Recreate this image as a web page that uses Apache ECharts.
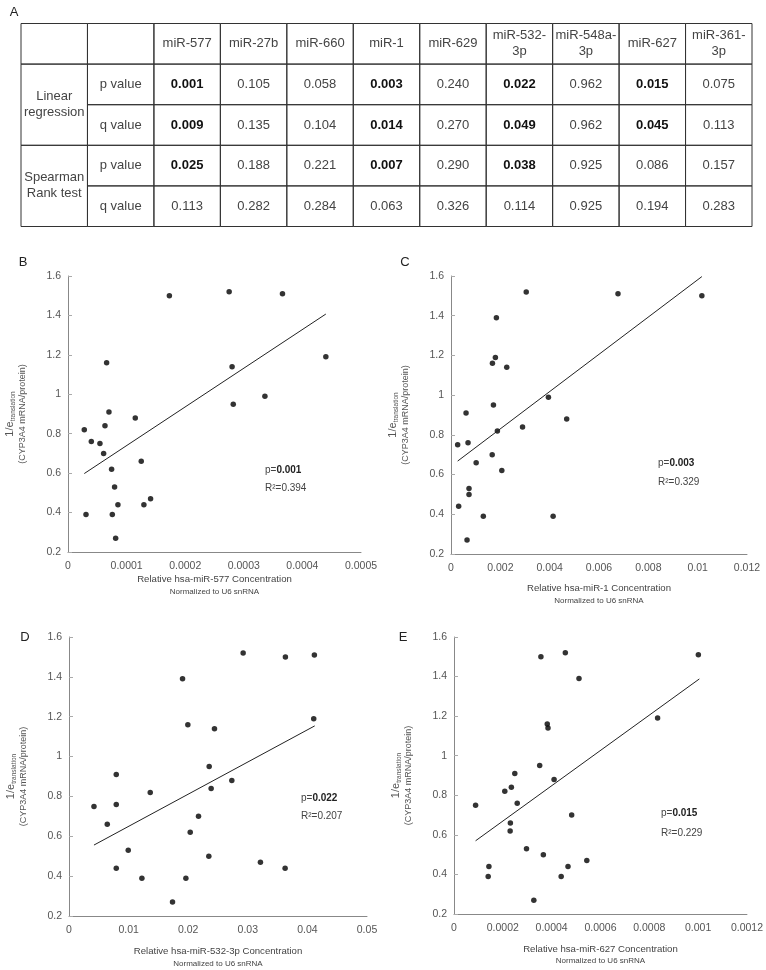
<!DOCTYPE html>
<html>
<head>
<meta charset="utf-8">
<script src="https://cdn.jsdelivr.net/npm/echarts@6/dist/echarts.min.js"></script>
<style>
html,body{margin:0;padding:0;background:#fff;}
#chart{width:766px;height:970px;}
</style>
</head>
<body>
<div id="chart"></div>
<script>
// ---------- Table (panel A) ----------
const tableHeaders = ['miR-577','miR-27b','miR-660','miR-1','miR-629','miR-532-\n3p','miR-548a-\n3p','miR-627','miR-361-\n3p'];
const tableGroups = ['Linear\nregression','Spearman\nRank test'];
const tableStats = ['p value','q value','p value','q value'];
const linP = ['0.001','0.105','0.058','0.003','0.240','0.022','0.962','0.015','0.075'];
const linQ = ['0.009','0.135','0.104','0.014','0.270','0.049','0.962','0.045','0.113'];
const spP  = ['0.025','0.188','0.221','0.007','0.290','0.038','0.925','0.086','0.157'];
const spQ  = ['0.113','0.282','0.284','0.063','0.326','0.114','0.925','0.194','0.283'];

// ---------- Scatter data ----------
// B: miR-577
const bX = [0.0000278,0.0000307,0.0000398,0.0000545,0.0000608,0.0000631,0.0000659,0.0000699,0.0000744,0.0000756,0.0000795,0.0000813,0.0000852,0.0001148,0.000125,0.0001295,0.0001409,0.000173,0.000275,0.00028,0.000282,0.000336,0.000366,0.00044];
const bY = [0.82,0.39,0.76,0.75,0.70,0.84,1.16,0.91,0.62,0.39,0.53,0.27,0.44,0.88,0.66,0.44,0.47,1.50,1.52,1.14,0.95,0.99,1.51,1.19];
const lineB = [[0.0000278,0.598],[0.00044,1.407]];
// C: miR-1
const cX = [0.00027,0.00031,0.00061,0.00065,0.00069,0.00073,0.00073,0.00102,0.00131,0.00167,0.00168,0.00172,0.0018,0.00184,0.00188,0.00206,0.00226,0.0029,0.00305,0.00395,0.00414,0.00469,0.00677,0.01017];
const cY = [0.75,0.44,0.91,0.27,0.76,0.53,0.50,0.66,0.39,0.70,1.16,0.95,1.19,1.39,0.82,0.62,1.14,0.84,1.52,0.99,0.39,0.88,1.51,1.50];
const lineC = [[0.00027,0.668],[0.01017,1.597]];
// D: miR-532-3p
const dX = [0.00419,0.00642,0.00793,0.00793,0.00793,0.00994,0.01223,0.01363,0.01737,0.01905,0.01961,0.01994,0.02034,0.02173,0.02346,0.02352,0.02385,0.02441,0.02732,0.02922,0.03212,0.03631,0.03626,0.04117,0.04106];
const dY = [0.75,0.66,0.91,0.76,0.44,0.53,0.39,0.82,0.27,1.39,0.39,1.16,0.62,0.70,0.50,0.95,0.84,1.14,0.88,1.52,0.47,1.50,0.44,1.51,1.19];
const lineD = [[0.00419,0.556],[0.04123,1.154]];
// E: miR-627
const eX = [0.0000884,0.00014,0.000143,0.000208,0.00023,0.000231,0.000235,0.000249,0.000259,0.000297,0.000327,0.000351,0.000356,0.000366,0.000382,0.000385,0.00041,0.000439,0.000456,0.000467,0.000482,0.000512,0.000544,0.000834,0.001001];
const eY = [0.75,0.39,0.44,0.82,0.62,0.66,0.84,0.91,0.76,0.53,0.27,0.95,1.50,0.50,1.16,1.14,0.88,0.39,1.52,0.44,0.70,1.39,0.47,1.19,1.51];
const lineE = [[0.0000884,0.570],[0.001005,1.388]];

const yTicks = ['0.2','0.4','0.6','0.8','1','1.2','1.4','1.6'];
const xTicksB = ['0','0.0001','0.0002','0.0003','0.0004','0.0005'];
const xTicksC = ['0','0.002','0.004','0.006','0.008','0.01','0.012'];
const xTicksD = ['0','0.01','0.02','0.03','0.04','0.05'];
const xTicksE = ['0','0.0002','0.0004','0.0006','0.0008','0.001','0.0012'];
const mirNames = ['hsa-miR-577','hsa-miR-1','hsa-miR-532-3p','hsa-miR-627'];
const pVals = ['0.001','0.003','0.022','0.015'];
const r2Vals = ['0.394','0.329','0.207','0.229'];
const panelLetters = ['A','B','C','D','E'];

// ---------- build ----------
const FONT = "'Liberation Sans', Arial, Helvetica, sans-serif";
const chart = echarts.init(document.getElementById('chart'), null, {renderer:'canvas', width:766, height:970});

function lt05(s){ return parseFloat(s) < 0.05; }
const tableCells = [];
tableCells.push({c:0, r:0, span:1, text:'', bold:false});
tableCells.push({c:1, r:0, span:1, text:'', bold:false});
tableHeaders.forEach((h,i)=>tableCells.push({c:i+2, r:0, span:1, text:h, bold:false}));
tableCells.push({c:0, r:1, span:2, text:tableGroups[0], bold:false});
tableCells.push({c:0, r:3, span:2, text:tableGroups[1], bold:false});
tableStats.forEach((s,i)=>tableCells.push({c:1, r:i+1, span:1, text:s, bold:false}));
[linP, linQ, spP, spQ].forEach((arr, ri)=>{
  arr.forEach((v, ci)=>tableCells.push({c:ci+2, r:ri+1, span:1, text:v, bold:lt05(v)}));
});

const panels = [
  {grid:{left:68, top:276, width:293, height:276}, xMax:0.0005, xInt:0.0001, xTicks:xTicksB, xs:bX, ys:bY, line:lineB, xGap:18, ann:[265,470,488]},
  {grid:{left:451, top:276, width:296, height:278}, xMax:0.012, xInt:0.002, xTicks:xTicksC, xs:cX, ys:cY, line:lineC, xGap:28, ann:[658,463,482]},
  {grid:{left:69, top:637, width:298, height:279}, xMax:0.05, xInt:0.01, xTicks:xTicksD, xs:dX, ys:dY, line:lineD, xGap:29, ann:[301,798,816]},
  {grid:{left:454, top:637, width:294, height:277}, xMax:0.0012, xInt:0.0002, xTicks:xTicksE, xs:eX, ys:eY, line:lineE, xGap:28.5, ann:[661,813,833]}
];

const grids = [{left:21, top:23.5, width:731, height:203}];
const xAxes = [{type:'category', gridIndex:0, data:[0,1,2,3,4,5,6,7,8,9,10], show:false}];
const yAxes = [{type:'category', gridIndex:0, data:['h','lp','lq','sp','sq'], inverse:true, show:false}];
const series = [{
  type:'custom', xAxisIndex:0, yAxisIndex:0, silent:true,
  data: tableCells.map(t=>[t.c, t.r]),
  encode:{x:0, y:1},
  renderItem: function(params, api){
    const cell = tableCells[params.dataIndex];
    const p0 = api.coord([cell.c, cell.r]);
    const sz = api.size([1,1]);
    const w = sz[0], h = sz[1];
    const x = p0[0]-w/2, y = p0[1]-h/2, H = h*cell.span;
    return {type:'group', children:[
      {type:'rect', shape:{x:x, y:y, width:w, height:H}, style:{fill:'rgba(0,0,0,0)', stroke:'#333', lineWidth:1}},
      {type:'text', x:x+w/2, y:y+H/2, style:{text:cell.text, align:'center', verticalAlign:'middle',
        fontSize:13, fontFamily:FONT, fontWeight:cell.bold?'bold':'normal', fill:cell.bold?'#111':'#444', lineHeight:16}}
    ]};
  }
}];

const graphics = [];
const letterPos = [[14,12],[23,262],[405,262],[25,637],[403,637]];
panelLetters.forEach((L,i)=>graphics.push({type:'text', x:letterPos[i][0], y:letterPos[i][1],
  style:{text:L, align:'center', verticalAlign:'middle', fontSize:13, fontFamily:FONT, fill:'#222'}}));

panels.forEach((p, k)=>{
  const gi = k+1;
  grids.push(p.grid);
  const ticks = p.xTicks;
  xAxes.push({type:'value', gridIndex:gi, min:0, max:p.xMax, interval:p.xInt,
    axisLine:{show:true, onZero:false, lineStyle:{color:'#888', width:1}},
    axisTick:{show:false}, splitLine:{show:false},
    axisLabel:{color:'#555', fontSize:10.5, margin:9, fontFamily:FONT, formatter:(v,i)=>ticks[i]},
    name:'Relative '+mirNames[k]+' Concentration\n{s|Normalized to U6 snRNA}',
    nameLocation:'middle', nameGap:p.xGap,
    nameTextStyle:{color:'#444', fontSize:9.6, fontFamily:FONT, lineHeight:13,
      rich:{s:{fontSize:8, lineHeight:11, color:'#444', fontFamily:FONT}}}
  });
  yAxes.push({type:'value', gridIndex:gi, min:0.2, max:1.6, interval:0.2,
    axisLine:{show:true, lineStyle:{color:'#888', width:1}},
    axisTick:{show:true, inside:true, length:4, lineStyle:{color:'#aaa'}},
    splitLine:{show:false},
    axisLabel:{color:'#555', fontSize:10.5, margin:7, fontFamily:FONT, formatter:(v,i)=>yTicks[i]},
    name:'{a|1/e}{sub|translation}\n{c|(CYP3A4 mRNA/protein)}',
    nameLocation:'middle', nameGap:40,
    nameTextStyle:{color:'#555', fontFamily:FONT,
      rich:{a:{fontSize:11, lineHeight:14, color:'#555', fontFamily:FONT, verticalAlign:'middle'},
            sub:{fontSize:6.5, lineHeight:7, color:'#555', fontFamily:FONT, verticalAlign:'bottom'},
            c:{fontSize:9, lineHeight:11, color:'#555', fontFamily:FONT}}}
  });
  series.push({type:'scatter', xAxisIndex:gi, yAxisIndex:gi, symbol:'circle', symbolSize:5.5,
    itemStyle:{color:'#000'}, data:p.xs.map((x,i)=>[x, p.ys[i]]), silent:true});
  series.push({type:'line', xAxisIndex:gi, yAxisIndex:gi, showSymbol:false, symbol:'none',
    lineStyle:{color:'#222', width:1}, data:p.line, silent:true});
  graphics.push({type:'text', x:p.ann[0], y:p.ann[1], style:{text:'p={b|'+pVals[k]+'}', align:'left', verticalAlign:'middle',
    fontSize:10, fontFamily:FONT, fill:'#444', rich:{b:{fontWeight:'bold', fill:'#222', fontSize:10, fontFamily:FONT}}}});
  graphics.push({type:'text', x:p.ann[0], y:p.ann[2], style:{text:'R\u00B2='+r2Vals[k], align:'left', verticalAlign:'middle',
    fontSize:10, fontFamily:FONT, fill:'#444'}});
});

chart.setOption({
  animation:false,
  backgroundColor:'#fff',
  grid:grids, xAxis:xAxes, yAxis:yAxes, series:series, graphic:graphics
});
</script>
</body>
</html>
